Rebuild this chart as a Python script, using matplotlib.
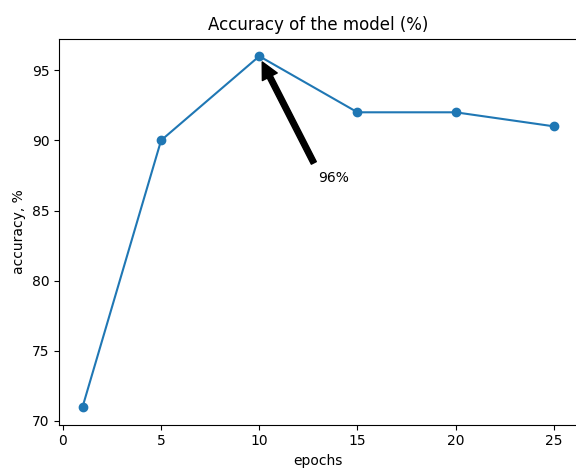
import matplotlib
matplotlib.use("Agg")
import matplotlib.pyplot as plt

# epochs and accuracy
epochs = [1, 5, 10, 15, 20, 25]
accuracy = [71, 90, 96, 92, 92, 91]

fig = plt.figure(figsize=(5.76, 4.7), dpi=100)
ax = fig.add_axes([0.1024, 0.0968, 0.9, 0.821])

ax.plot(epochs, accuracy, marker='o')
ax.annotate('96%', xy=(10, 96), xytext=(13, 87),
            arrowprops=dict(facecolor='black', shrink=0.05))

ax.set_title('Accuracy of the model (%)')
ax.set_xlabel('epochs')
ax.set_ylabel('accuracy, %')

fig.savefig("out.png", dpi=100)
